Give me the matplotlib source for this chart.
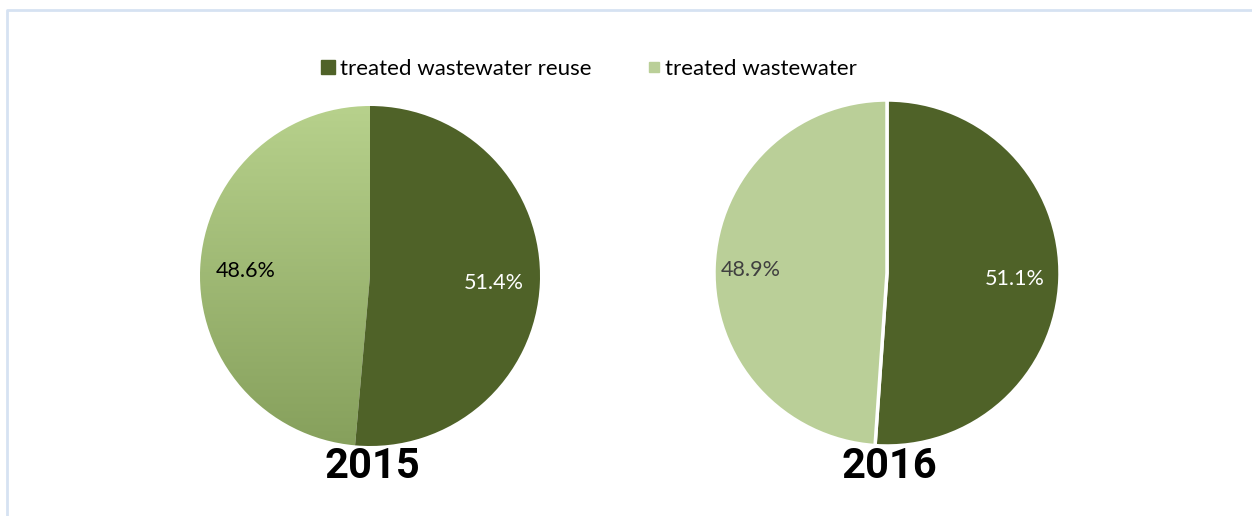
import matplotlib.pyplot as plt
import numpy as np
from matplotlib.lines import Line2D
from matplotlib.colors import LinearSegmentedColormap

# data
years = ["2015", "2016"]
categories = ["treated wastewater reuse", "treated wastewater"]
shares_2015 = [51.4, 48.6]
shares_2016 = [51.1, 48.9]

dark = "#4f6228"
light_2016 = "#bacf98"
grad_top, grad_bottom = "#b7d18c", "#86a05c"

W, H = 1252, 516
fig = plt.figure(figsize=(W / 100, H / 100), dpi=100)
ax = fig.add_axes([0, 0, 1, 1])

# light frame on top/left
ax.plot([6.5, 6.5, W], [H, 9.5, 9.5], color="#d6e2f2", lw=2, solid_capstyle="butt")

txt = ["Lato", "DejaVu Sans"]

# y axis runs downward (pixel-like), so start at -90 and go counterclockwise
# to get a clockwise pie starting at 12 o'clock on screen

# 2015 pie
c1, r1 = (370, 276), 170
w1, _ = ax.pie(shares_2015, colors=[dark, grad_top], startangle=-90,
               counterclock=True, center=c1, radius=r1, frame=True)
# vertical gradient on the lighter wedge
cmap = LinearSegmentedColormap.from_list("g", [grad_top, grad_bottom])
grad = np.linspace(0, 1, 256).reshape(-1, 1)
w1[1].set_facecolor("none")
im = ax.imshow(grad, cmap=cmap, aspect="auto",
               extent=[c1[0] - r1, c1[0] + r1, c1[1] + r1, c1[1] - r1], zorder=0.5)
im.set_clip_path(w1[1])
ax.text(c1[0] - 124, c1[1] - 5, f"{shares_2015[1]}%", ha="center", va="center",
        fontsize=15.5, color="black", family=txt)
ax.text(c1[0] + 124, c1[1] + 7, f"{shares_2015[0]}%", ha="center", va="center",
        fontsize=15.5, color="white", family=txt)

# 2016 pie
c2, r2 = (887, 273), 173
w2, _ = ax.pie(shares_2016, colors=[dark, light_2016], startangle=-90,
               counterclock=True, center=c2, radius=r2, frame=True,
               wedgeprops=dict(edgecolor="white", linewidth=2.5))
ax.text(c2[0] - 136, c2[1] - 3, f"{shares_2016[1]}%", ha="center", va="center",
        fontsize=15.5, color="#404040", family=txt)
ax.text(c2[0] + 128, c2[1] + 6, f"{shares_2016[0]}%", ha="center", va="center",
        fontsize=15.5, color="white", family=txt)

# year labels
yfont = ["Roboto", "DejaVu Sans"]
ax.text(372, 467, years[0], ha="center", va="center", fontsize=30,
        fontweight="bold", family=yfont)
ax.text(889, 467, years[1], ha="center", va="center", fontsize=30,
        fontweight="bold", family=yfont)

ax.set_xlim(0, W)
ax.set_ylim(H, 0)
ax.set_aspect("equal")
ax.axis("off")

# legend
handles = [
    Line2D([], [], marker="s", ls="none", color=dark, markersize=9.5),
    Line2D([], [], marker="s", ls="none", color=light_2016, markersize=6.5),
]
fig.legend(handles, categories, loc="center", bbox_to_anchor=(589 / W, 1 - 69 / H),
           ncol=2, frameon=False, prop={"family": txt, "size": 16},
           handletextpad=0.15, columnspacing=2.5, handlelength=0.7)

fig.savefig("out.png", dpi=100)
